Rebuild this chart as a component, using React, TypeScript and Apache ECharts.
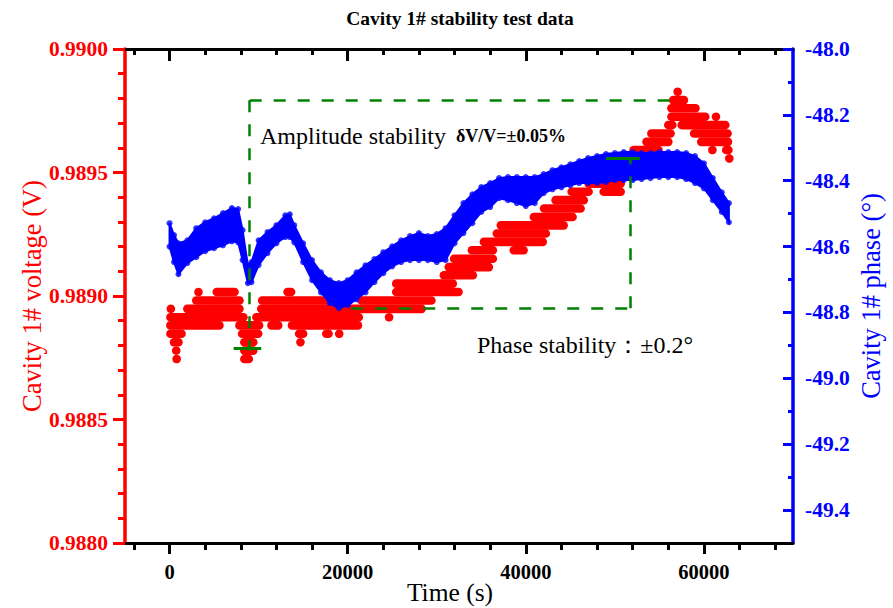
import React, { useEffect, useRef } from 'react';
import * as echarts from 'echarts';

const FONT = '"Liberation Serif", "Times New Roman", Times, serif';
const RED = '#ff0000';
const BLUE = '#0000ff';
const GREEN = '#008000';

const titleText = 'Cavity 1# stability test data';
const xName = 'Time (s)';
const leftName = 'Cavity 1# voltage (V)';
const rightName = 'Cavity 1# phase (°)';

const xMajorTicks = [0, 20000, 40000, 60000];
const xMinorTicks = [-4000, 4000, 8000, 12000, 16000, 24000, 28000, 32000, 36000, 44000, 48000, 52000, 56000, 64000, 68000];
const voltageMajorTicks = [0.988, 0.9885, 0.989, 0.9895, 0.99];
const voltageMinorTicks = [0.9881, 0.9882, 0.9883, 0.9884, 0.9886, 0.9887, 0.9888, 0.9889, 0.9891, 0.9892, 0.9893, 0.9894, 0.9896, 0.9897, 0.9898, 0.9899];
const phaseMajorTicks = [-49.4, -49.2, -49.0, -48.8, -48.6, -48.4, -48.2, -48.0];
const phaseMinorTicks = [-49.3, -49.1, -48.9, -48.7, -48.5, -48.3, -48.1];

// Phase band (upper / lower envelope of the blue points), degrees
const phaseTime = [0, 500, 1000, 2000, 3000, 4000, 5000, 6000, 7000, 7700, 8200, 8800, 9200, 10000, 11000, 12000, 13000, 13500, 14000, 15000, 16000, 17000, 18000, 19000, 20000, 21000, 22000, 23000, 24000, 25000, 26000, 27000, 28000, 29000, 30000, 31000, 32000, 33000, 34000, 35000, 36000, 37000, 38000, 39000, 40000, 41000, 42000, 43000, 44000, 45000, 46000, 47000, 48000, 49000, 50000, 51000, 52000, 53000, 54000, 55000, 56000, 57000, 58000, 59000, 60000, 61000, 62000, 62800];
const phaseUpper = [-48.529, -48.565, -48.590, -48.581, -48.544, -48.526, -48.514, -48.498, -48.483, -48.486, -48.550, -48.657, -48.647, -48.581, -48.556, -48.535, -48.505, -48.502, -48.535, -48.590, -48.641, -48.678, -48.702, -48.711, -48.702, -48.678, -48.657, -48.638, -48.617, -48.599, -48.581, -48.568, -48.559, -48.568, -48.562, -48.544, -48.505, -48.468, -48.441, -48.419, -48.407, -48.392, -48.389, -48.389, -48.389, -48.389, -48.380, -48.368, -48.359, -48.350, -48.340, -48.331, -48.325, -48.319, -48.316, -48.313, -48.313, -48.316, -48.316, -48.313, -48.313, -48.313, -48.316, -48.325, -48.347, -48.392, -48.435, -48.468];
const phaseLower = [-48.600, -48.647, -48.684, -48.650, -48.632, -48.614, -48.605, -48.596, -48.584, -48.587, -48.641, -48.711, -48.708, -48.656, -48.620, -48.590, -48.571, -48.571, -48.587, -48.647, -48.702, -48.739, -48.772, -48.787, -48.778, -48.760, -48.739, -48.708, -48.681, -48.660, -48.647, -48.641, -48.641, -48.641, -48.647, -48.641, -48.590, -48.559, -48.529, -48.495, -48.480, -48.453, -48.459, -48.468, -48.477, -48.468, -48.438, -48.426, -48.420, -48.414, -48.407, -48.407, -48.407, -48.404, -48.398, -48.398, -48.398, -48.395, -48.392, -48.389, -48.389, -48.389, -48.395, -48.407, -48.423, -48.459, -48.495, -48.526];

// Voltage: quantised horizontal runs of points [start time, end time, voltage]
const voltageRuns = [
  [3250, 3250, 0.989016], [5300, 7300, 0.989016],
  [3000, 7850, 0.988982],
  [150, 150, 0.988948], [2000, 7850, 0.988948],
  [100, 8300, 0.988914],
  [100, 5600, 0.988881],
  [100, 1350, 0.988847],
  [500, 1000, 0.988813],
  [750, 750, 0.988779],
  [800, 800, 0.988745],
  [7850, 10050, 0.988881], [11450, 12200, 0.988881], [13750, 21150, 0.988881],
  [8150, 9950, 0.988847], [14550, 15000, 0.988847], [17600, 17850, 0.988847], [19050, 19050, 0.988847],
  [8400, 9400, 0.988813], [14700, 14700, 0.988813],
  [8400, 9400, 0.988779],
  [8400, 8900, 0.988745],
  [9750, 21250, 0.988914], [24650, 24650, 0.988914],
  [10300, 28300, 0.988948],
  [10400, 20150, 0.988982], [21550, 29400, 0.988982],
  [13250, 13650, 0.989016], [25450, 32450, 0.989016],
  [25450, 31800, 0.989050],
  [30800, 34050, 0.989084],
  [31350, 35850, 0.989117],
  [31950, 36300, 0.989151],
  [33950, 36300, 0.989185], [38650, 39750, 0.989185],
  [35300, 41900, 0.989219],
  [36750, 42250, 0.989253],
  [37200, 44250, 0.989286],
  [40900, 45250, 0.989320],
  [42050, 46150, 0.989354],
  [43350, 46500, 0.989388],
  [45150, 47050, 0.989422], [48750, 50650, 0.989422],
  [47050, 50650, 0.989455],
  [48550, 50850, 0.989489],
  [49350, 51200, 0.989523],
  [51350, 52550, 0.989557], [62850, 62850, 0.989557],
  [52100, 54900, 0.989591], [60950, 60950, 0.989591], [62500, 62750, 0.989591],
  [53550, 56000, 0.989624], [59700, 62700, 0.989624],
  [54100, 56250, 0.989658], [58900, 62650, 0.989658],
  [56000, 56450, 0.989692], [57500, 62400, 0.989692],
  [56350, 60150, 0.989726], [61350, 61350, 0.989726],
  [56350, 59050, 0.989760],
  [56550, 57750, 0.989793],
  [57050, 57050, 0.989827],
];

// Annotation brackets (data coordinates)
const ampTop = 0.989793;
const ampBottom = 0.988788;
const ampStartT = 9000;
const ampEndT = 57300;
const ampTickT = [7200, 10300];
const phaseBottom = -48.787;
const phaseTop = -48.331;
const phaseStartT = 20400;
const phaseEndT = 51750;
const phaseTickT = [49000, 52800];

export default function App() {
  const ref = useRef<HTMLDivElement>(null);
  useEffect(() => {
    if (!ref.current) return;
    const chart = echarts.init(ref.current, null, { renderer: 'svg' });

    const xBase = { type: 'value', min: -5000, max: 70000, splitLine: { show: false }, axisLine: { onZero: false } };
    const dash = { type: [12, 12], color: GREEN, width: 2.5 };
    const solid = { type: 'solid', color: GREEN, width: 3 };

    const option: any = {
      animation: false,
      backgroundColor: '#ffffff',
      grid: { left: 125, right: 100, top: 49, bottom: 65, containLabel: false, outerBoundsMode: 'none' },
      xAxis: [
        {
          ...xBase, position: 'bottom',
          axisLine: { onZero: false, lineStyle: { color: '#000', width: 3 } },
          axisTick: { customValues: xMajorTicks, length: 11, lineStyle: { color: '#000', width: 3 } },
          axisLabel: { customValues: xMajorTicks, formatter: (v: number) => String(v), color: '#000', fontFamily: FONT, fontWeight: 'bold', fontSize: 20.5, margin: 18 },
          name: xName, nameLocation: 'middle', nameGap: 36, nameMoveOverlap: false,
          nameTextStyle: { color: '#000', fontFamily: FONT, fontSize: 25.5, padding: [0, 18, 0, 0] },
        },
        {
          ...xBase, position: 'bottom',
          axisLine: { show: false, onZero: false },
          axisTick: { customValues: xMinorTicks, length: 7, lineStyle: { color: '#000', width: 3 } },
          axisLabel: { show: false },
        },
        {
          ...xBase, position: 'top',
          axisLine: { onZero: false, lineStyle: { color: '#000', width: 3 } },
          axisTick: { inside: true, customValues: xMajorTicks, length: 12, lineStyle: { color: '#000', width: 3 } },
          axisLabel: { show: false },
        },
        {
          ...xBase, position: 'top',
          axisLine: { show: false, onZero: false },
          axisTick: { inside: true, customValues: xMinorTicks, length: 6, lineStyle: { color: '#000', width: 3 } },
          axisLabel: { show: false },
        },
      ],
      yAxis: [
        {
          type: 'value', position: 'left', min: 0.988, max: 0.99, splitLine: { show: false },
          axisLine: { show: true, onZero: false, lineStyle: { color: RED, width: 3.5 } },
          axisTick: { show: true, customValues: voltageMajorTicks, length: 12, lineStyle: { color: RED, width: 3 } },
          axisLabel: { customValues: voltageMajorTicks, showMinLabel: true, showMaxLabel: true, formatter: (v: number) => v.toFixed(4), color: RED, fontFamily: FONT, fontWeight: 'bold', fontSize: 21.5, margin: 17 },
          name: leftName, nameLocation: 'middle', nameGap: 80, nameMoveOverlap: false,
          nameTextStyle: { color: RED, fontFamily: FONT, fontSize: 26.5 },
        },
        {
          type: 'value', position: 'left', min: 0.988, max: 0.99, splitLine: { show: false },
          axisLine: { show: false, onZero: false },
          axisTick: { show: true, customValues: voltageMinorTicks, length: 7, lineStyle: { color: RED, width: 3 } },
          axisLabel: { show: false },
        },
        {
          type: 'value', position: 'right', min: -49.5, max: -48.0, splitLine: { show: false },
          axisLine: { show: true, onZero: false, lineStyle: { color: BLUE, width: 3.5 } },
          axisTick: { show: true, inside: true, customValues: phaseMajorTicks, length: 10, lineStyle: { color: BLUE, width: 3 } },
          axisLabel: { customValues: phaseMajorTicks, showMinLabel: true, showMaxLabel: true, formatter: (v: number) => v.toFixed(1), color: BLUE, fontFamily: FONT, fontWeight: 'bold', fontSize: 21.5, margin: 12 },
          name: rightName, nameLocation: 'middle', nameGap: 64, nameMoveOverlap: false,
          nameTextStyle: { color: BLUE, fontFamily: FONT, fontSize: 26.5 },
        },
        {
          type: 'value', position: 'right', min: -49.5, max: -48.0, splitLine: { show: false },
          axisLine: { show: false, onZero: false },
          axisTick: { show: true, inside: true, customValues: phaseMinorTicks, length: 5, lineStyle: { color: BLUE, width: 3 } },
          axisLabel: { show: false },
        },
      ],
      series: [
        {
          type: 'custom', name: 'voltage', xAxisIndex: 0, yAxisIndex: 0, z: 2,
          data: voltageRuns,
          encode: { x: [0, 1], y: 2 },
          renderItem: (params: any, api: any) => {
            const a = api.coord([api.value(0), api.value(2)]);
            const b = api.coord([api.value(1), api.value(2)]);
            if (Math.abs(b[0] - a[0]) < 0.5) {
              return { type: 'circle', shape: { cx: a[0], cy: a[1], r: 4.3 }, style: { fill: RED } };
            }
            return {
              type: 'line',
              shape: { x1: a[0], y1: a[1], x2: b[0], y2: b[1] },
              style: { stroke: RED, lineWidth: 8.6, lineCap: 'round' },
            };
          },
        },
        {
          type: 'custom', name: 'phaseBand', xAxisIndex: 0, yAxisIndex: 2, z: 3,
          data: [[phaseTime[0], phaseUpper[0]]],
          renderItem: (params: any, api: any) => {
            const pts: number[][] = [];
            for (let i = 0; i < phaseTime.length; i++) pts.push(api.coord([phaseTime[i], phaseUpper[i]]));
            for (let i = phaseTime.length - 1; i >= 0; i--) pts.push(api.coord([phaseTime[i], phaseLower[i]]));
            return { type: 'polygon', shape: { points: pts }, style: { fill: BLUE, stroke: BLUE, lineWidth: 2 } };
          },
        },
        {
          type: 'scatter', name: 'phaseEdge', xAxisIndex: 0, yAxisIndex: 2, z: 3,
          symbol: 'circle', symbolSize: 6, itemStyle: { color: BLUE },
          data: phaseTime.map((t, i) => [t, phaseUpper[i]]).concat(phaseTime.map((t, i) => [t, phaseLower[i]])),
        },
        {
          type: 'line', name: 'ampBracket', xAxisIndex: 0, yAxisIndex: 0, z: 5, data: [],
          markLine: {
            silent: true, symbol: ['none', 'none'], label: { show: false }, lineStyle: dash,
            data: [
              [{ coord: [ampStartT, ampTop] }, { coord: [ampEndT, ampTop] }],
              [{ coord: [ampStartT, ampTop] }, { coord: [ampStartT, ampBottom - 0.00001] }],
              [{ coord: [ampTickT[0], ampBottom], lineStyle: solid }, { coord: [ampTickT[1], ampBottom] }],
            ],
          },
        },
        {
          type: 'line', name: 'phaseBracket', xAxisIndex: 0, yAxisIndex: 2, z: 5, data: [],
          markLine: {
            silent: true, symbol: ['none', 'none'], label: { show: false }, lineStyle: dash,
            data: [
              [{ coord: [phaseStartT, phaseBottom] }, { coord: [phaseEndT, phaseBottom] }],
              [{ coord: [phaseEndT, phaseBottom] }, { coord: [phaseEndT, phaseTop] }],
              [{ coord: [phaseTickT[0], phaseTop], lineStyle: solid }, { coord: [phaseTickT[1], phaseTop] }],
            ],
          },
        },
      ],
      graphic: [
        { type: 'text', x: 460, y: 18, style: { text: titleText, fill: '#000', font: `bold 19.5px ${FONT}`, align: 'center', verticalAlign: 'middle' } },
        { type: 'text', x: 260, y: 136, style: { text: 'Amplitude stability', fill: '#000', font: `24px ${FONT}`, align: 'left', verticalAlign: 'middle' } },
        { type: 'text', x: 456, y: 136, style: { text: 'δV/V=±0.05%', fill: '#000', font: `bold 18px ${FONT}`, align: 'left', verticalAlign: 'middle' } },
        { type: 'text', x: 477, y: 345, style: { text: 'Phase stability：±0.2°', fill: '#000', font: `24px ${FONT}`, align: 'left', verticalAlign: 'middle' } },
      ],
    };
    chart.setOption(option);
    return () => chart.dispose();
  }, []);
  return <div ref={ref} style={{ position: 'fixed', left: 0, top: 0, width: 893, height: 608, background: '#fff' }} />;
}
